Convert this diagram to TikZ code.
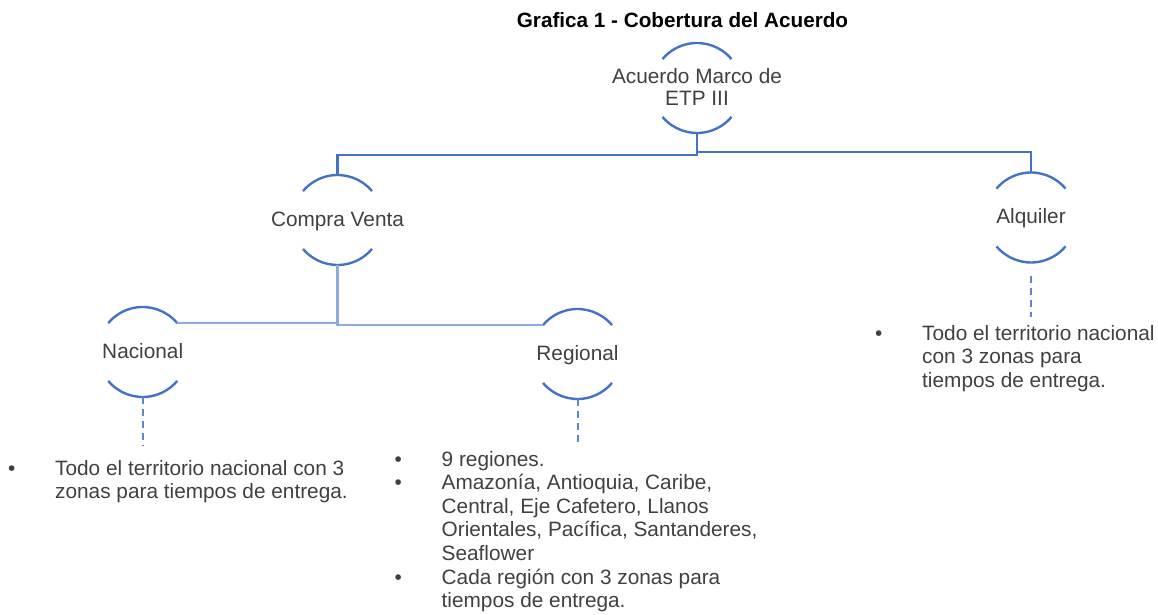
\documentclass[tikz,border=0pt]{standalone}
\usepackage{fontspec}
\setmainfont{Liberation Sans}
\usetikzlibrary{positioning}
\definecolor{arcblue}{HTML}{4472C4}
\definecolor{linklight}{HTML}{8FAADC}
\definecolor{txtgray}{HTML}{404040}
\newcommand{\txtsize}{\fontsize{20.8}{23.6}\selectfont}

\begin{document}
\begin{tikzpicture}[
    x=1pt, y=1pt,
    branch/.style={circle,minimum size=90pt,inner sep=0pt,outer sep=0pt},
    lbl/.style={yshift=-1pt,align=center,text=txtgray,
                font=\fontsize{20.8}{22}\selectfont},
    rim/.style={arcblue,line width=2.4pt},
    toplink/.style={arcblue,line width=2.2pt},
    sublink/.style={linklight,line width=2.2pt},
    leader/.style={arcblue!85,line width=2pt,dash pattern=on 7pt off 5pt},
    lst/.style={anchor=base west,inner sep=0pt,text=txtgray,font=\txtsize}]

  \useasboundingbox (0,0) rectangle (1158,614);

  % ---- title ----
  \node[anchor=base,font=\fontsize{20.7}{23}\selectfont\bfseries] (title) at (682.5,586)
        {Grafica 1 - Cobertura del Acuerdo};

  % ---- the branches, top to bottom ----
  \node[branch,label={[lbl,yshift=2.4pt]center:{Acuerdo Marco de\\ETP III}}] (acu) at (697,526) {};
  \node[branch,label={[lbl]center:Compra Venta}] (cv)  at (337.5,394) {};
  \node[branch,label={[lbl]center:Alquiler}]     (alq) at (1031,396.5) {};
  \node[branch,label={[lbl,yshift=2.3pt]center:Nacional}] (nac) at (142.7,262) {};
  \node[branch,label={[lbl]center:Regional}]     (reg) at (577.5,260) {};

  % the open rims: top and bottom arcs only
  \foreach \n in {acu,cv,alq,nac,reg}
    \draw[rim] (\n.40) arc[start angle=40,end angle=140,radius=45]
               (\n.220) arc[start angle=220,end angle=320,radius=45];

  % ---- links ----
  \draw[toplink] (acu.south) -- ++(0,-22) -| (cv.north);
  \draw[toplink] (acu.south) -- ++(0,-19) -| (alq.north);
  \draw[sublink] (cv.south) |- (nac.40);
  \draw[sublink] (cv.south) |- (reg.140);

  % ---- leaders down to the notes ----
  \coordinate[below=49pt of nac] (nacd);
  \coordinate[below=48pt of reg] (regd);
  \coordinate[below=13.5pt of alq] (alqs);
  \coordinate[below=54pt of alq] (alqd);
  \draw[leader] (nac.south) -- (nacd);
  \draw[leader] (reg.south) -- (regd);
  \draw[leader] (alqs) -- (alqd);

  % ---- notes ----
  \node[lst] (nacn) at (8,139) {\begin{tabular}[t]{@{}p{47pt}@{}l@{}}
    \textbullet & Todo el territorio nacional con 3\\
                & zonas para tiempos de entrega.
  \end{tabular}};
  \node[lst] (regn) at (394.5,148) {\begin{tabular}[t]{@{}p{47pt}@{}l@{}}
    \textbullet & 9 regiones.\\
    \textbullet & Amazonía, Antioquia, Caribe,\\
                & Central, Eje Cafetero, Llanos\\
                & Orientales, Pacífica, Santanderes,\\
                & Seaflower\\
    \textbullet & Cada región con 3 zonas para\\
                & tiempos de entrega.
  \end{tabular}};
  \node[lst] (alqn) at (875,274) {\begin{tabular}[t]{@{}p{47pt}@{}l@{}}
    \textbullet & Todo el territorio nacional\\
                & con 3 zonas para\\
                & tiempos de entrega.
  \end{tabular}};
\end{tikzpicture}
\end{document}
